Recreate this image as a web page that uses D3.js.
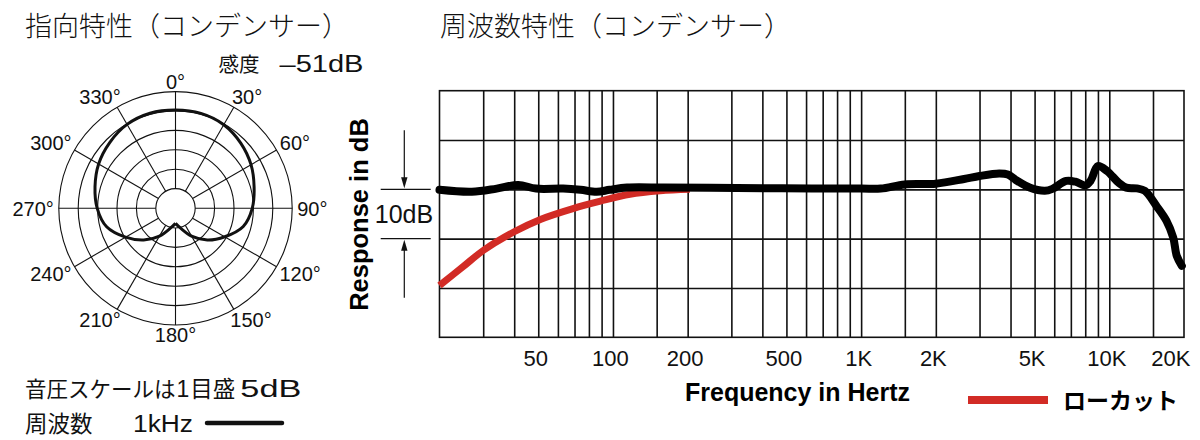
<!DOCTYPE html>
<html><head><meta charset="utf-8">
<script src="https://cdn.jsdelivr.net/npm/d3@7/dist/d3.min.js"></script>
<style>
html,body{margin:0;padding:0;background:#fff;}
svg{display:block;}
</style></head>
<body>
<script>
// ---------- data ----------
const polarAngles = [0,15,30,45,60,75,90,105,120,135,150,165,180,195,210,225,240,255,270,285,300,315,330,345];
const polarDb     = [-4.75,-4.75,-5.2,-6.3,-7.6,-9.1,-10.3,-12.0,-15.4,-18.5,-21.8,-24.7,-26.2,-24.7,-21.8,-18.5,-15.2,-11.7,-9.9,-8.6,-7.2,-6.1,-5.1,-4.7];
const polarRings  = [-25,-20,-15,-10,-5,0];
const polarSpokes = [0,30,60,90,120,150,180,210,240,270,300,330];
const polarLabels = ["0°","30°","60°","90°","120°","150°","180°","210°","240°","270°","300°","330°"];

const respFreq = [20,27,34,41.5,49,63,74,86,97,114,160,246,480,1000,1200,1500,2000,2600,3000,3600,3900,4200,4800,5500,5900,6700,7300,8000,8400,9000,9800,10900,11700,12900,13900,15500,17000,18100,18700,19600];
const respDb   = [-0.1,-0.5,0.15,0.9,0.15,0.15,-0.1,-0.5,-0.1,0.35,0.35,0.3,0.2,0.15,0.15,1.0,1.15,2.1,2.7,3.2,3.0,1.9,0.3,-0.3,0.1,1.7,1.55,0.8,1.7,4.7,3.7,1.35,0.35,0.2,-0.3,-3.4,-6.4,-9.8,-13.5,-15.5];
const lowcutFreq = [20,25,30,40,51,69,89,117,155,204];
const lowcutDb   = [-19.5,-15.6,-12.4,-8.6,-6.1,-3.9,-2.4,-1.0,-0.3,0];

const gridFreqs = [30,40,50,60,70,80,90,100,150,200,300,400,500,600,700,800,900,1000,1500,2000,3000,4000,5000,6000,7000,8000,9000,10000,15000];
const gridDb    = [-20,-10,0,10];
const freqTickValues = [50,100,200,500,1000,2000,5000,10000,20000];
const freqTickLabels = ["50","100","200","500","1K","2K","5K","10K","20K"];

const LATIN = "'Liberation Sans', 'Noto Sans CJK JP', sans-serif";
const CJK = "'Noto Sans CJK JP', sans-serif";

const svg = d3.select("body").append("svg").attr("width",1200).attr("height",440);

// ---------- titles ----------
svg.append("text").attr("x",25).attr("y",35.5).attr("font-family",CJK).attr("font-size",27)
  .attr("font-weight",300).attr("fill","#111").text("指向特性（コンデンサー）");
svg.append("text").attr("x",440).attr("y",35.5).attr("font-family",CJK).attr("font-size",27)
  .attr("font-weight",300).attr("fill","#111").text("周波数特性（コンデンサー）");
const sens = svg.append("text").attr("x",218.5).attr("y",71.5).attr("fill","#111");
sens.append("tspan").attr("font-family",CJK).attr("font-size",20.5).text("感度");
sens.append("tspan").attr("dx",20).attr("font-family",LATIN).attr("font-size",23)
  .attr("textLength",84).attr("lengthAdjust","spacingAndGlyphs").text("–51dB");

// ---------- polar ----------
const pc = {x:175.5, y:208.3};
const rScale = d3.scaleLinear().domain([-25,0]).range([19.7,116.7]);
const pg = svg.append("g").attr("transform",`translate(${pc.x},${pc.y})`);
pg.selectAll("circle.ring").data(polarRings).join("circle").attr("class","ring")
  .attr("r",d=>rScale(d)).attr("fill","none").attr("stroke","#111").attr("stroke-width",1.1);
pg.selectAll("line.spoke").data(polarSpokes).join("line").attr("class","spoke")
  .attr("x1",d=>rScale(-25)*Math.sin(d*Math.PI/180)).attr("y1",d=>-rScale(-25)*Math.cos(d*Math.PI/180))
  .attr("x2",d=>rScale(0)*Math.sin(d*Math.PI/180)).attr("y2",d=>-rScale(0)*Math.cos(d*Math.PI/180))
  .attr("stroke","#111").attr("stroke-width",1.1);

const pts = [];
for (let i = 12; i <= 36; i++) {
  const k = i % 24;
  pts.push({a: polarAngles[k] + (i >= 24 ? 360 : 0), db: polarDb[k]});
}
const radial = d3.lineRadial().angle(d=>d.a*Math.PI/180).radius(d=>rScale(d.db))
  .curve(d3.curveCatmullRom.alpha(0.5));
pg.append("path").datum(pts).attr("d",radial).attr("fill","none").attr("stroke","#111")
  .attr("stroke-width",3).attr("stroke-linejoin","round");

const labFont = 20;
pg.selectAll("text.plab").data(polarSpokes).join("text").attr("class","plab")
  .attr("font-family",LATIN).attr("font-size",labFont).attr("fill","#111")
  .attr("text-anchor","middle").text((d,i)=>polarLabels[i])
  .each(function(d){
    const w = this.getComputedTextLength();
    const h = 14;
    const s = Math.sin(d*Math.PI/180), c = Math.cos(d*Math.PI/180);
    const R = rScale(0) + 5;
    const fx = Math.abs(s) < 0.01 ? 0 : Math.sign(s)*Math.sqrt(Math.abs(s));
    const fy = Math.abs(c) < 0.01 ? 0 : Math.sign(c)*Math.sqrt(Math.abs(c));
    const cx = R*s + fx*w/2;
    const cy = -R*c - fy*h/2 + (Math.abs(c) > 0.99 ? fy*2 : 0);
    d3.select(this).attr("x", cx).attr("y", cy + 0.36*labFont);
  });

const l1 = svg.append("text").attr("x",25).attr("y",397).attr("fill","#111");
l1.append("tspan").attr("font-family",CJK).attr("font-size",21.5).text("音圧スケールは");
l1.append("tspan").attr("font-family",LATIN).attr("font-size",23).attr("dx",1).text("1");
l1.append("tspan").attr("font-family",CJK).attr("font-size",22.5).attr("dx",1).text("目盛");
l1.append("tspan").attr("font-family",LATIN).attr("font-size",23.5).attr("dx",5)
  .attr("textLength",61).attr("lengthAdjust","spacingAndGlyphs").text("5dB");
svg.append("text").attr("x",25).attr("y",432).attr("font-family",CJK).attr("font-size",22.5)
  .attr("fill","#111").text("周波数");
svg.append("text").attr("x",133).attr("y",432).attr("font-family",LATIN).attr("font-size",23)
  .attr("textLength",60).attr("lengthAdjust","spacingAndGlyphs").attr("fill","#111").text("1kHz");
svg.append("line").attr("x1",207).attr("x2",282).attr("y1",423).attr("y2",423)
  .attr("stroke","#111").attr("stroke-width",4.5).attr("stroke-linecap","round");

// ---------- frequency response ----------
const x = d3.scaleLog().domain([20,20000]).range([439.5,1184]);
const y = d3.scaleLinear().domain([-30,20]).range([337.3,90.7]);
const fg = svg.append("g");

const gx = fg.append("g").attr("transform",`translate(0,${y(-30)})`)
  .call(d3.axisBottom(x).tickValues(gridFreqs).tickSize(-(y(-30)-y(20))).tickFormat(""));
gx.select(".domain").remove();
gx.selectAll("line").attr("stroke","#111").attr("stroke-width",1.6);

const gy = fg.append("g").attr("transform",`translate(${x(20)},0)`)
  .call(d3.axisLeft(y).tickValues(gridDb).tickSize(-(x(20000)-x(20))).tickFormat(""));
gy.select(".domain").remove();
gy.selectAll("line").attr("stroke","#111").attr("stroke-width",1.6);

fg.append("rect").attr("x",x(20)).attr("y",y(20)).attr("width",x(20000)-x(20)).attr("height",y(-30)-y(20))
  .attr("fill","none").attr("stroke","#111").attr("stroke-width",1.6);

const lab = fg.append("g").attr("transform",`translate(-3,${y(-30)})`)
  .call(d3.axisBottom(x).tickValues(freqTickValues).tickSize(0).tickPadding(0)
    .tickFormat((d,i)=>freqTickLabels[i]));
lab.select(".domain").remove();
lab.selectAll("text").attr("font-family",LATIN).attr("font-size",22).attr("fill","#111")
  .attr("dy",null).attr("y",29);
lab.selectAll(".tick").filter(d=>d===20000).select("text").attr("text-anchor","end").attr("dx",9);

const line = d3.line().x(d=>x(d[0])).y(d=>y(d[1])).curve(d3.curveCatmullRom.alpha(0.5));
fg.append("path").datum(lowcutFreq.map((f,i)=>[f,lowcutDb[i]])).attr("d",line)
  .attr("fill","none").attr("stroke","#d22b25").attr("stroke-width",7);
fg.append("path").datum(respFreq.map((f,i)=>[f,respDb[i]])).attr("d",line)
  .attr("fill","none").attr("stroke","#000").attr("stroke-width",8)
  .attr("stroke-linecap","round").attr("stroke-linejoin","round");

// Response axis title
svg.append("text").attr("transform",`translate(368,${(y(20)+y(-30))/2+0.5}) rotate(-90)`)
  .attr("text-anchor","middle").attr("font-family",LATIN).attr("font-weight","bold")
  .attr("font-size",25.5).attr("fill","#000").text("Response in dB");

// 10dB scale marker
const ann = svg.append("g").attr("stroke","#111").attr("stroke-width",1.2);
ann.append("line").attr("x1",380.7).attr("x2",430.7).attr("y1",y(0)).attr("y2",y(0));
ann.append("line").attr("x1",380.7).attr("x2",430.7).attr("y1",y(-10)).attr("y2",y(-10));
ann.append("line").attr("x1",404.3).attr("x2",404.3).attr("y1",y(12)).attr("y2",y(0)-10);
ann.append("line").attr("x1",404.3).attr("x2",404.3).attr("y1",y(-22)).attr("y2",y(-10)+10);
svg.append("path").attr("d",`M${404.3-3.2},${y(0)-12}L${404.3+3.2},${y(0)-12}L404.3,${y(0)-1}Z`).attr("fill","#111");
svg.append("path").attr("d",`M${404.3-3.2},${y(-10)+12}L${404.3+3.2},${y(-10)+12}L404.3,${y(-10)+1}Z`).attr("fill","#111");
svg.append("text").attr("x",404).attr("y",(y(0)+y(-10))/2+9).attr("text-anchor","middle")
  .attr("font-family",LATIN).attr("font-size",25).attr("fill","#111").text("10dB");

// x axis title + legend
svg.append("text").attr("x",685).attr("y",401).attr("font-family",LATIN).attr("font-weight","bold")
  .attr("font-size",25).attr("fill","#000").text("Frequency in Hertz");
svg.append("line").attr("x1",968).attr("x2",1048).attr("y1",400).attr("y2",400)
  .attr("stroke","#d22b25").attr("stroke-width",8);
svg.append("text").attr("x",1063).attr("y",409).attr("font-family",CJK).attr("font-weight","bold")
  .attr("font-size",23).attr("fill","#000").text("ローカット");
</script>
</body></html>
